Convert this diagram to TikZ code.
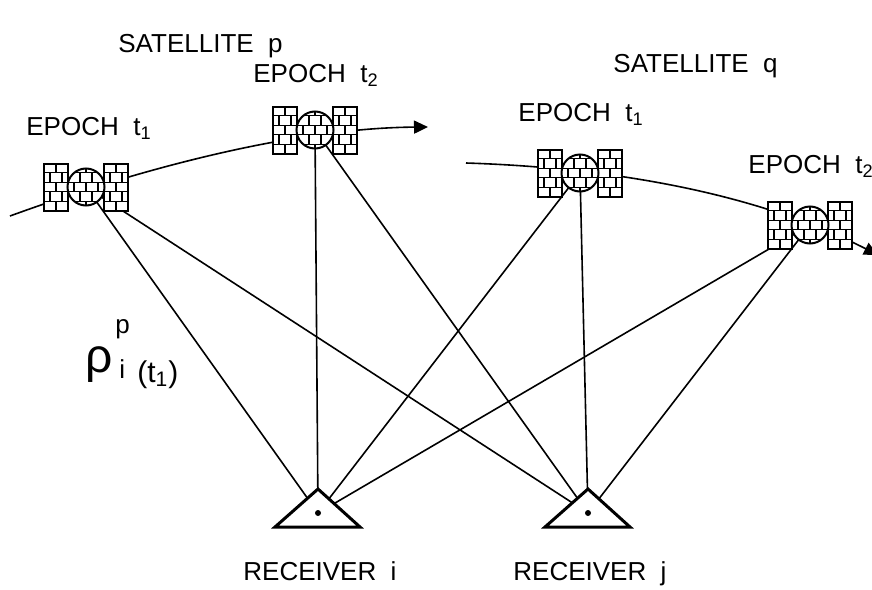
\documentclass[tikz,border=0pt]{standalone}
\usepackage{fontspec}
\setmainfont{Liberation Sans}
\usetikzlibrary{arrows.meta}
\tikzset{
  lbl/.style={anchor=base west,inner sep=0pt,font=\fontsize{13}{15}\selectfont},
  ray/.style={line width=0.8pt},
  orbit/.style={line width=0.8pt,-{Triangle[length=7pt,width=6.5pt]}},
  brick/.style={line width=0.55pt},
  sat/.pic={
    \foreach \px in {-42,18} {
      \fill[white] (\px,-23.5) rectangle ++(24,47);
      \foreach \r in {1,...,4} \draw[brick] (\px,-23.5+\r*9.4) -- ++(24,0);
      \foreach \r in {0,2,4} \draw[brick] (\px+12,-23.5+\r*9.4) -- ++(0,9.4);
      \foreach \r in {1,3} \draw[brick] (\px+6,-23.5+\r*9.4) -- ++(0,9.4) (\px+18,-23.5+\r*9.4) -- ++(0,9.4);
      \draw[line width=1pt] (\px,-23.5) rectangle ++(24,47);
    }
    \fill[white] (0,0) circle (18.5);
    \begin{scope}
      \clip (0,0) circle (18.5);
      \foreach \r in {1,...,4} \draw[brick] (-20,-23.5+\r*9.4) -- ++(40,0);
      \foreach \r in {0,2,4} \foreach \c in {-12,0,12} \draw[brick] (\c,-23.5+\r*9.4) -- ++(0,9.4);
      \foreach \r in {1,3} \foreach \c in {-18,-6,6,18} \draw[brick] (\c,-23.5+\r*9.4) -- ++(0,9.4);
    \end{scope}
    \draw[line width=1pt] (0,0) circle (18.5);
  },
  rcv/.pic={
    \filldraw[fill=white,line width=1.5pt,line join=miter] (-43,14) -- (0,-24) -- (42,14) -- cycle;
    \fill (0,0) circle (3);
  }
}
\begin{document}
\begin{tikzpicture}[x=0.5pt,y=-0.5pt]
\clip (0,0) rectangle (872,589);
\coordinate (pt1) at (86,187);
\coordinate (pt2) at (315,130);
\coordinate (qt1) at (580,173);
\coordinate (qt2) at (810,225);
\coordinate (ri) at (318,513);
\coordinate (rj) at (588,513);
\coordinate (pfrom) at (10,216);
\coordinate (pto) at (428,127);
\coordinate (qfrom) at (466,163);
\coordinate (qto) at (878,255);
\draw[orbit] (pfrom) .. controls (150,165) and (300,128) .. (pto);
\draw[orbit] (qfrom) .. controls (620,168) and (760,195) .. (qto);
\foreach \s in {pt1,pt2,qt1,qt2} {
  \draw[ray] (\s) -- (ri);
  \draw[ray] (\s) -- (rj);
}
\foreach \s in {pt1,pt2,qt1,qt2} \pic at (\s) {sat};
\pic at (ri) {rcv};
\pic at (rj) {rcv};
\node[lbl] (satp) at (118,52) {SATELLITE\ \ p};
\node[lbl] (satq) at (613,72) {SATELLITE\ \ q};
\node[lbl] (ept1) at (26,135) {EPOCH\ \ t\textsubscript{1}};
\node[lbl] (ept2) at (253,82) {EPOCH\ \ t\textsubscript{2}};
\node[lbl] (eqt1) at (518,121) {EPOCH\ \ t\textsubscript{1}};
\node[lbl] (eqt2) at (748,173) {EPOCH\ \ t\textsubscript{2}};
\node[lbl] (reci) at (243,580) {RECEIVER\ \ i};
\node[lbl] (recj) at (513,580) {RECEIVER\ \ j};
\node[anchor=base west,inner sep=0pt,font=\fontsize{24}{28}\selectfont] (rho) at (85,372) {ρ};
\node[lbl] (rhop) at (115,333) {p};
\node[lbl] (rhoi) at (119,378) {i};
\node[anchor=base west,inner sep=0pt,font=\fontsize{15}{18}\selectfont] (rhot) at (137,382) {(t\textsubscript{1})};
\end{tikzpicture}
\end{document}
